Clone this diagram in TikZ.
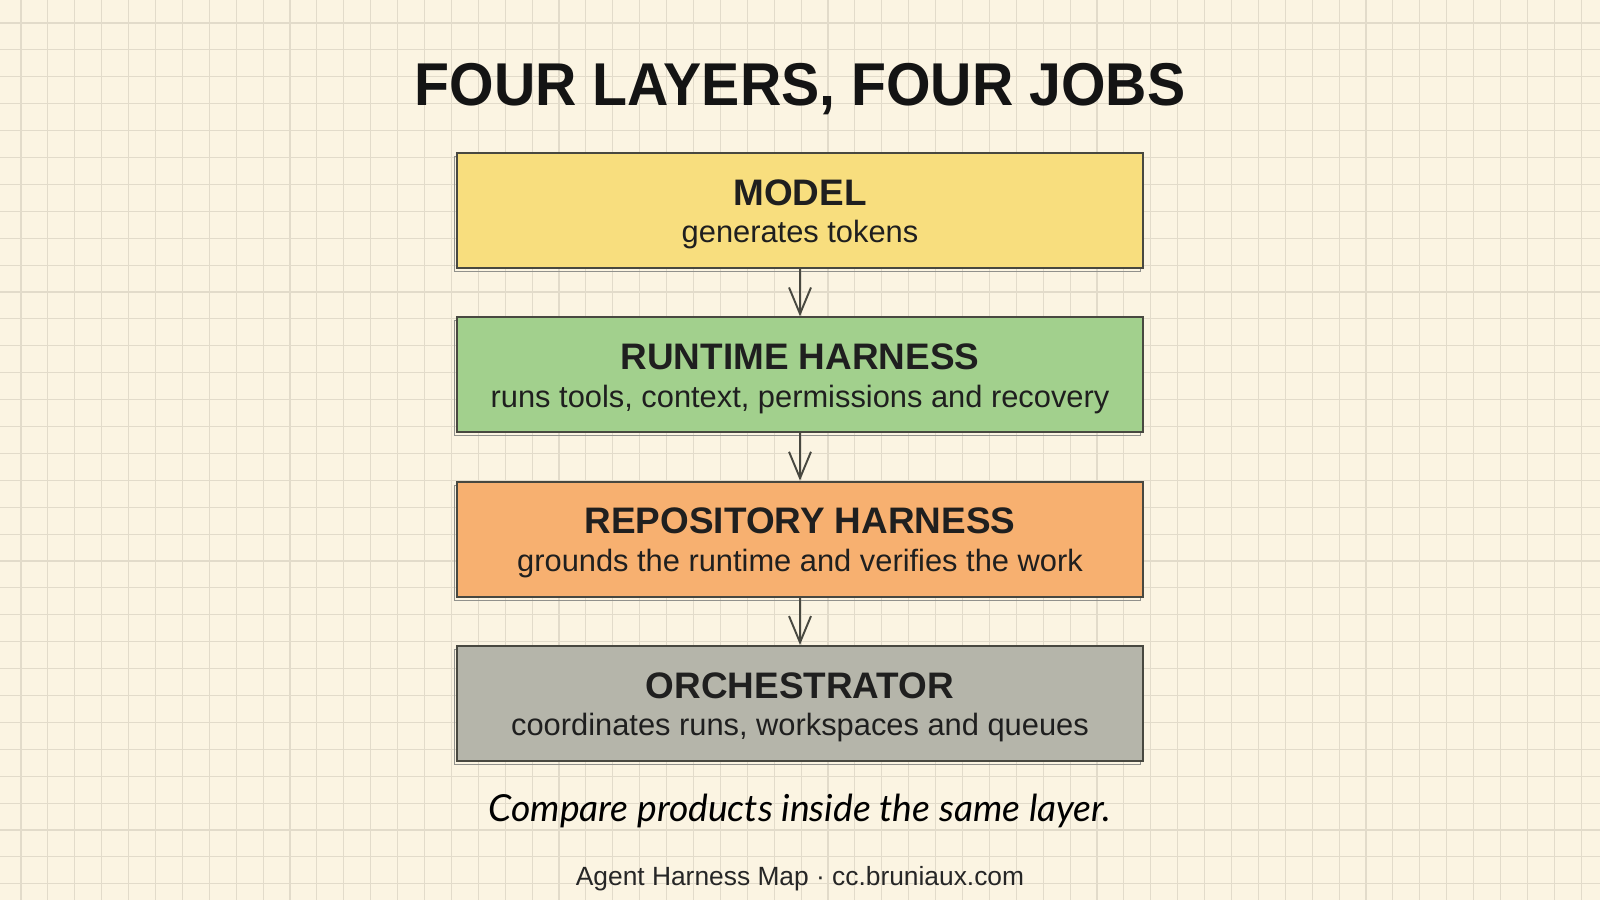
\documentclass[tikz,border=0pt]{standalone}
\usepackage{fontspec}
\setmainfont{Liberation Sans}
\newfontfamily\condfont[FakeStretch=0.947]{Liberation Sans}
\newfontfamily\handfont{Lato}
\usetikzlibrary{positioning,arrows.meta}
\definecolor{paper}{RGB}{251,244,226}
\definecolor{gridline}{RGB}{226,219,202}
\definecolor{edgegray}{RGB}{72,72,64}
\definecolor{modelyellow}{RGB}{248,222,126}
\definecolor{runtimegreen}{RGB}{162,208,141}
\definecolor{repoorange}{RGB}{247,176,112}
\definecolor{orchgray}{RGB}{181,181,170}
\newcommand*{\titlestyle}{\condfont\bfseries\fontsize{34.4}{40}\selectfont\color{black!92}}
\newcommand*{\headstyle}{\bfseries\fontsize{21}{21.5}\selectfont}
\newcommand*{\substyle}{\fontsize{17.55}{21.5}\selectfont\color{black!88}}
\tikzset{
   layer/.style = {
      draw          = edgegray,
      line width    = 1.1pt,
      minimum width = 13.72cm,
      minimum height = 2.3cm,
      text height   = 40.5pt,
      align         = center,
      font          = \substyle,
      preaction     = {draw = edgegray!60, line width = 0.6pt,
                       transform canvas = {shift = {(-1.2pt,-2pt)}}}
   },
   flow/.style = {
      draw       = edgegray,
      line width = 1.1pt,
      -{Straight Barb[length=15pt,width=12.5pt,line width=1.1pt]}
   }
}

\begin{document}
\begin{tikzpicture}[x=0.02cm, y=-0.02cm]
   \useasboundingbox (0,0) rectangle (1600,900);
   \fill[paper] (0,0) rectangle (1600,900);
   % squared paper
   \foreach \gx in {0,...,59}
      \draw[gridline, line width=0.6pt] (21+26.9*\gx,0) -- (21+26.9*\gx,900);
   \foreach \gy in {0,...,33}
      \draw[gridline, line width=0.6pt] (0,23+26.9*\gy) -- (1600,23+26.9*\gy);

   \node (title) at (800,105) [anchor=base, font=\titlestyle]
      {FOUR LAYERS, FOUR JOBS};

   \node (model) at (800,210.5) [layer, fill=modelyellow]
      {{\headstyle MODEL}\\generates tokens};
   \node (runtime) [layer, fill=runtimegreen, below=0.948cm of model]
      {{\headstyle RUNTIME HARNESS}\\runs tools, context, permissions and recovery};
   \node (repo) [layer, fill=repoorange, below=0.948cm of runtime]
      {{\headstyle REPOSITORY HARNESS}\\grounds the runtime and verifies the work};
   \node (orch) [layer, fill=orchgray, below=0.948cm of repo]
      {{\headstyle ORCHESTRATOR}\\coordinates runs, workspaces and queues};

   \draw[flow] (model)   -- (runtime);
   \draw[flow] (runtime) -- (repo);
   \draw[flow] (repo)    -- (orch);

   \node (motto) at (800,821) [anchor=base,
      font=\handfont\itshape\fontsize{21.2}{24}\selectfont]
      {Compare products inside the same layer.};
   \node (footer) at (800,885) [anchor=base,
      font=\fontsize{15}{18}\selectfont\color{black!85}]
      {Agent Harness Map · cc.bruniaux.com};
\end{tikzpicture}
\end{document}
